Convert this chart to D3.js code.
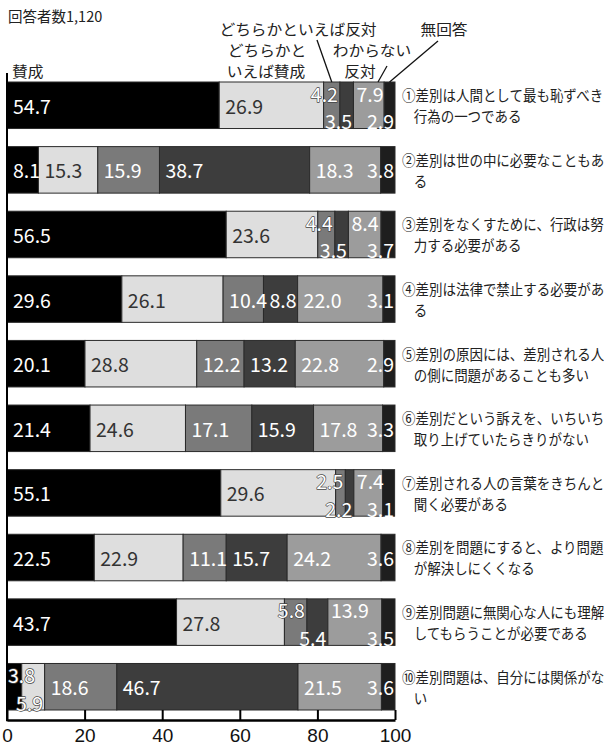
<!DOCTYPE html>
<html><head><meta charset="utf-8">
<script src="https://cdn.jsdelivr.net/npm/d3@7"></script>
<style>
html,body{margin:0;padding:0;background:#fff;}
svg text{font-family:"Noto Sans CJK JP","Noto Sans",sans-serif;}
</style></head>
<body><svg id="chart" width="604" height="747"></svg>
<script>
// ---- data ----
const seriesNames = ["賛成","どちらかといえば賛成","どちらかといえば反対","反対","わからない","無回答"];
const categories = [
  ["①差別は人間として最も恥ずべき","行為の一つである"],
  ["②差別は世の中に必要なこともあ","る"],
  ["③差別をなくすために、行政は努","力する必要がある"],
  ["④差別は法律で禁止する必要があ","る"],
  ["⑤差別の原因には、差別される人","の側に問題があることも多い"],
  ["⑥差別だという訴えを、いちいち","取り上げていたらきりがない"],
  ["⑦差別される人の言葉をきちんと","聞く必要がある"],
  ["⑧差別を問題にすると、より問題","が解決しにくくなる"],
  ["⑨差別問題に無関心な人にも理解","してもらうことが必要である"],
  ["⑩差別問題は、自分には関係がな","い"]
];
const approve        = [54.7, 8.1, 56.5, 29.6, 20.1, 21.4, 55.1, 22.5, 43.7, 3.8];
const ratherApprove  = [26.9, 15.3, 23.6, 26.1, 28.8, 24.6, 29.6, 22.9, 27.8, 5.9];
const ratherOppose   = [4.2, 15.9, 4.4, 10.4, 12.2, 17.1, 2.5, 11.1, 5.8, 18.6];
const oppose         = [3.5, 38.7, 3.5, 8.8, 13.2, 15.9, 2.2, 15.7, 5.4, 46.7];
const dontKnow       = [7.9, 18.3, 8.4, 22.0, 22.8, 17.8, 7.4, 24.2, 13.9, 21.5];
const noAnswer       = [2.9, 3.8, 3.7, 3.1, 2.9, 3.3, 3.1, 3.6, 3.5, 3.6];
const xTicks = [0, 20, 40, 60, 80, 100];
const respondents = "回答者数1,120";

const series = [approve, ratherApprove, ratherOppose, oppose, dontKnow, noAnswer];
const colors = ["#000000","#dedede","#7a7a7a","#3d3d3d","#9c9c9c","#1e1e1e"];

const svg = d3.select("#chart");
const x = d3.scaleLinear().domain([0,100]).range([7,395]);
const y = d3.scaleBand().domain(d3.range(categories.length)).range([82,710]).paddingInner(0.28).paddingOuter(0);
const bw = y.bandwidth();

// rows
const rows = categories.map((c,i)=>{
  let cum = 0;
  const segs = series.map((s,j)=>{
    const v = s[i];
    const seg = {i, j, v, x0: cum, x1: Math.min(100, cum + v)};
    cum += v;
    return seg;
  });
  return {i, segs};
});

const g = svg.append("g");
rows.forEach(r=>{
  g.selectAll(null).data(r.segs).enter().append("rect")
    .attr("x", d=>x(d.x0)).attr("y", y(r.i))
    .attr("width", d=>x(d.x1)-x(d.x0)).attr("height", bw)
    .attr("fill", d=>colors[d.j]).attr("stroke","#2a2a2a").attr("stroke-width",1);
});

// value labels
const VF = 19.5;
rows.forEach(r=>{
  const yt = y(r.i), yc = yt + bw/2;
  const compact = r.segs[2].v < 6 || r.segs[3].v < 6;
  const lightEnd = x(r.segs[1].x1);
  let small = 0;
  r.segs.forEach(d=>{
    const t = g.append("text").text(d.v.toFixed(1))
      .attr("font-size", VF).attr("dominant-baseline","central");
    const w = t.node().getComputedTextLength();
    let tx, ty, fill = "#fff", outline = false;
    if (d.j === 5) {
      tx = x(100) - 1 - w; ty = compact ? yt + bw - 8 : yc;
    } else if (d.v < 6) {
      if (small === 0) { tx = Math.max(x(0)+1, x(d.x1) - 2 - w); ty = yt + 11; }
      else { tx = x(d.x1) - 1.5 - w; ty = yt + bw - 8; }
      small++;
      outline = tx < lightEnd;
    } else if (compact && d.j === 4) {
      tx = x(d.x0) + 3; ty = yt + 11;
    } else {
      tx = x(d.x0) + 6; ty = yc;
      if (d.j === 1) fill = "#333";
    }
    t.attr("x", tx).attr("y", ty).attr("fill", fill);
    if (outline) t.attr("stroke","#444").attr("stroke-width",1.3).attr("paint-order","stroke").attr("stroke-linejoin","round");
  });
  // category label
  const cl = svg.append("g").attr("transform", `translate(402,${yc}) scale(0.9,1)`);
  cl.append("text").text(categories[r.i][0]).attr("x",0).attr("y",-11)
    .attr("font-size",15).attr("fill","#222").attr("dominant-baseline","central");
  cl.append("text").text(categories[r.i][1]).attr("x",13).attr("y",10)
    .attr("font-size",15).attr("fill","#222").attr("dominant-baseline","central");
});

// axis
const axis = d3.axisBottom(x).tickValues(xTicks).tickSize(-10).tickSizeOuter(0).tickPadding(0).tickFormat(d3.format("d"));
const ax = svg.append("g").attr("transform","translate(0,720)").call(axis);
ax.select(".domain").attr("stroke","#000").attr("stroke-width",2.5);
ax.selectAll(".tick line").attr("stroke","#000").attr("stroke-width",2);
ax.selectAll(".tick text").attr("font-size",19).attr("fill","#111")
  .attr("y", 15).attr("dy", null).attr("dominant-baseline","central")
  .style("font-family",'"Liberation Sans","Noto Sans",sans-serif');
svg.append("line").attr("x1",x(0)).attr("x2",x(0)).attr("y1",73).attr("y2",721.2)
  .attr("stroke","#000").attr("stroke-width",2);

// header texts
svg.append("text").text(respondents).attr("x",8).attr("y",15).attr("font-size",14.5)
  .attr("fill","#222").attr("dominant-baseline","central");
const hdr = (txt,cx,cy,anchor)=>svg.append("g").attr("transform",`translate(${cx},${cy}) scale(1.1,1)`)
  .append("text").text(txt).attr("x",0).attr("y",0)
  .attr("font-size",14.3).attr("fill","#222").attr("text-anchor",anchor||"middle").attr("dominant-baseline","central");
hdr(seriesNames[0], 12, 71, "start");
hdr(seriesNames[2], 298, 29);
hdr("どちらかと", 267, 50);
hdr("いえば賛成", 266, 71);
hdr(seriesNames[4], 372, 50);
hdr(seriesNames[3], 360, 71);
hdr(seriesNames[5], 444, 29);

// leader lines
const r0 = rows[0].segs, top0 = y(0);
const lead = (x1,y1,x2,y2)=>svg.append("line").attr("x1",x1).attr("y1",y1).attr("x2",x2).attr("y2",y2)
  .attr("stroke","#111").attr("stroke-width",1.3);
lead(317, 40, x((r0[2].x0+r0[2].x1)/2), top0);
lead(387, 66, x(r0[4].x0 + r0[4].v*0.8), top0);
lead(438, 41, x((r0[5].x0+r0[5].x1)/2), top0);
</script></body></html>
